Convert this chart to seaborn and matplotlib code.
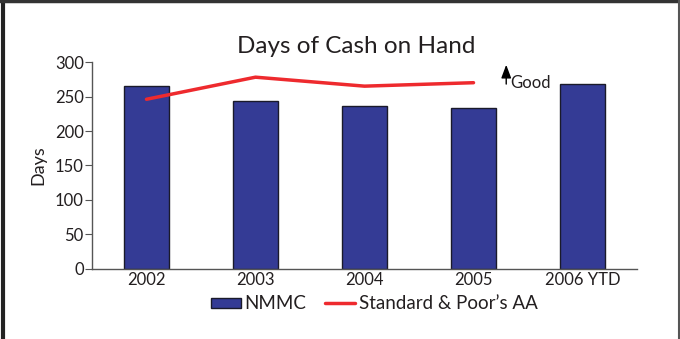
import numpy as np
import pandas as pd
import seaborn as sns
import matplotlib.pyplot as plt
from matplotlib.lines import Line2D
from matplotlib.patches import Patch

years = ["2002", "2003", "2004", "2005", "2006 YTD"]
nmmc = [265, 243, 236, 234, 268]
sp_years = ["2002", "2003", "2004", "2005"]
sp_aa = [246, 278, 265, 270]
y_ticks = [0, 50, 100, 150, 200, 250, 300]

bar_color = "#343b95"
line_color = "#ee2a2e"
text_color = "#231f20"

sns.set_style("white")
plt.rcParams["font.family"] = ["Lato", "DejaVu Sans"]

fig = plt.figure(figsize=(6.8, 3.39), dpi=100)
ax = fig.add_axes([0.1353, 0.2065, 0.8015, 0.6106])

bars = pd.DataFrame({"year": years, "days": nmmc})
sns.barplot(data=bars, x="year", y="days", color=bar_color, width=0.41,
            edgecolor="#1a1a2a", linewidth=1.0, saturation=1, ax=ax)

line = pd.DataFrame({"year": sp_years, "days": sp_aa})
line["pos"] = [years.index(y) for y in sp_years]
sns.lineplot(data=line, x="pos", y="days", color=line_color, linewidth=2.5, ax=ax)

ax.set_xlim(-0.5, len(years) - 0.5)
ax.set_ylim(0, 300)
ax.set_yticks(y_ticks)
ax.set_yticklabels([str(t) for t in y_ticks], fontsize=12, color=text_color)
ax.set_xticks(range(len(years)))
ax.set_xticklabels(years, fontsize=12, color=text_color)
ax.tick_params(axis="x", which="major", length=0, pad=2)
ax.set_xticks(np.arange(-0.5, len(years) - 1, 1.0), minor=True)
ax.tick_params(axis="x", which="minor", length=4, color="#555555", direction="out")
ax.tick_params(axis="y", length=5, color="#555555", direction="out", left=True, pad=1)
ax.set_xlabel("")
ax.set_ylabel("Days", fontsize=13, color=text_color, labelpad=6)

for side in ["top", "right"]:
    ax.spines[side].set_visible(False)
for side in ["left", "bottom"]:
    ax.spines[side].set_color("#555555")
    ax.spines[side].set_linewidth(1.0)

fig.text(0.524, 0.862, "Days of Cash on Hand", fontsize=17.5, color=text_color,
         ha="center", va="center")

# "Good" arrow
ax.annotate("", xy=(3.3, 300), xytext=(3.3, 264),
            arrowprops=dict(arrowstyle="-|>,head_width=0.3,head_length=0.8",
                            color="black", lw=1.0))
ax.text(3.335, 270, "Good", fontsize=12, color=text_color, ha="left", va="center")

handles = [Patch(facecolor=bar_color, edgecolor="#1a1a2a", linewidth=1.0),
           Line2D([0], [0], color=line_color, linewidth=2.5)]
fig.legend(handles, ["NMMC", "Standard & Poor\u2019s AA"], loc="center",
           bbox_to_anchor=(0.55, 0.104), ncol=2, frameon=False, fontsize=13.5,
           handlelength=1.6, handleheight=0.45, handletextpad=0.2, columnspacing=1.0,
           labelcolor=text_color)

# page border
fig.add_artist(Line2D([0.004, 0.004], [0, 1], transform=fig.transFigure,
                      color="#222222", linewidth=3))
fig.add_artist(Line2D([0, 1], [0.996, 0.996], transform=fig.transFigure,
                      color="#333333", linewidth=2.5))
fig.add_artist(Line2D([0.9985, 0.9985], [0, 1], transform=fig.transFigure,
                      color="#555555", linewidth=1.5))

fig.savefig("out.png", dpi=100)
